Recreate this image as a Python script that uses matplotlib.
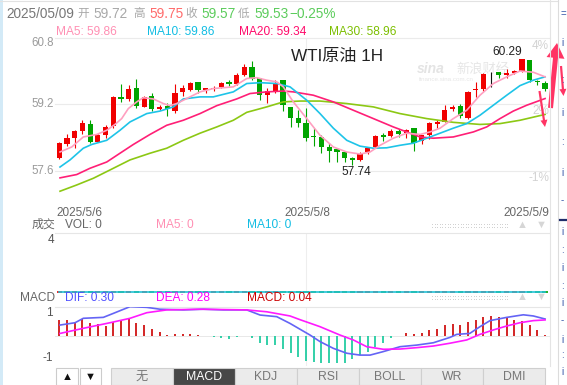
import matplotlib
matplotlib.use('Agg')
import matplotlib.pyplot as plt
import numpy as np
from matplotlib.patches import Rectangle, FancyArrow

plt.rcParams['font.family'] = ['Liberation Sans', 'Noto Sans CJK SC', 'DejaVu Sans']

# ---------------- data ----------------
open_ = [57.91, 58.25, 58.39, 58.56, 58.73, 58.30, 58.46, 58.68, 59.38, 59.33,
         59.59, 59.14, 59.40, 59.09, 59.16, 59.04, 59.50, 59.54, 59.74, 59.54,
         59.57, 59.62, 59.74, 59.69, 59.90, 60.09, 59.83, 59.42, 59.50, 59.78,
         59.14, 58.87, 58.75, 58.44, 58.42, 58.17, 58.13, 58.05, 57.91, 57.87,
         58.06, 58.17, 58.46, 58.44, 58.56, 58.51, 58.63, 58.32, 58.46, 58.73,
         58.78, 59.09, 59.16, 58.87, 59.54, 59.57, 59.97, 59.97, 59.90, 59.95,
         60.00, 60.26, 59.76, 59.72]
high = [58.30, 58.49, 58.58, 58.82, 58.82, 58.49, 58.70, 59.40, 59.69, 59.66,
        59.81, 59.40, 59.47, 59.18, 59.23, 59.68, 59.66, 59.74, 59.74, 59.59,
        59.64, 59.74, 59.78, 59.95, 60.17, 60.24, 59.83, 59.59, 59.78, 59.78,
        59.14, 59.06, 59.11, 58.63, 58.46, 58.27, 58.13, 58.05, 57.94, 58.06,
        58.18, 58.46, 58.51, 58.61, 58.61, 58.61, 58.63, 58.46, 58.78, 58.82,
        59.18, 59.18, 59.21, 59.52, 59.74, 59.95, 59.97, 59.97, 60.05, 60.02,
        60.29, 60.26, 59.78, 59.75]
low = [57.89, 58.20, 58.15, 58.49, 58.27, 58.30, 58.39, 58.63, 59.26, 59.28,
       59.11, 59.14, 59.04, 59.06, 58.92, 58.99, 59.40, 59.52, 59.47, 59.47,
       59.52, 59.59, 59.64, 59.66, 59.88, 59.78, 59.30, 59.23, 59.47, 59.04,
       58.66, 58.66, 58.32, 58.20, 58.03, 57.82, 57.81, 57.82, 57.74, 57.84,
       58.01, 58.15, 58.32, 58.42, 58.42, 58.39, 58.08, 58.25, 58.37, 58.63,
       58.77, 59.04, 58.87, 58.85, 59.38, 59.52, 59.62, 59.83, 59.83, 59.93,
       59.98, 59.74, 59.66, 59.53]
close = [58.27, 58.39, 58.56, 58.75, 58.30, 58.46, 58.66, 59.38, 59.33, 59.57,
         59.16, 59.38, 59.09, 59.14, 59.09, 59.47, 59.59, 59.71, 59.54, 59.59,
         59.59, 59.71, 59.69, 59.90, 60.09, 59.81, 59.42, 59.52, 59.71, 59.18,
         58.87, 58.75, 58.39, 58.42, 58.18, 58.08, 58.05, 57.91, 57.86, 58.01,
         58.15, 58.44, 58.43, 58.56, 58.49, 58.58, 58.27, 58.46, 58.75, 58.77,
         59.06, 59.14, 58.92, 59.50, 59.57, 59.93, 59.97, 59.90, 59.95, 60.00,
         60.28, 59.78, 59.74, 59.57]

# moving averages (bar position, value)
ma5_x = [0.09, 1.61, 3.11, 4.85, 6.15, 7.22, 8.09, 8.95, 10.04, 10.89, 12.19, 13.49, 14.36, 15.23, 16.52,
         18.25, 19.97, 22.57, 24.31, 25.6, 26.9, 28.2, 29.05, 30.35, 32.09, 33.81, 35.54, 37.28, 39.0, 40.3,
         41.6, 43.32, 45.06, 46.78, 48.08, 49.38, 51.1, 52.84, 54.56, 56.29, 58.03, 59.75, 61.48, 63.0]
ma5_y = [58.06, 58.18, 58.42, 58.48, 58.58, 58.72, 58.86, 59.10, 59.26, 59.36, 59.33, 59.22, 59.17, 59.22, 59.34,
         59.50, 59.58, 59.62, 59.82, 59.84, 59.78, 59.74, 59.62, 59.26, 58.86, 58.46, 58.18, 58.06, 58.01, 58.06,
         58.22, 58.39, 58.51, 58.48, 58.54, 58.63, 58.86, 59.06, 59.42, 59.70, 59.86, 60.00, 59.97, 59.86]
ma10_x = [0.09, 1.39, 3.11, 4.2, 6.15, 7.87, 9.17, 11.34, 13.06, 14.79, 16.08, 18.25, 19.97, 22.57, 24.31,
          26.04, 28.2, 29.92, 32.09, 33.81, 35.54, 37.28, 39.0, 40.73, 42.46, 44.18, 45.91, 47.65, 49.38, 51.1,
          52.84, 54.56, 56.29, 58.03, 59.75, 61.48, 63.0]
ma10_y = [57.70, 57.87, 58.15, 58.24, 58.34, 58.58, 58.78, 58.98, 59.04, 59.14, 59.33, 59.38, 59.38, 59.50, 59.70,
          59.72, 59.70, 59.62, 59.30, 58.98, 58.63, 58.34, 58.20, 58.15, 58.16, 58.22, 58.27, 58.39, 58.51, 58.63,
          58.74, 58.94, 59.18, 59.42, 59.65, 59.78, 59.86]
ma20_x = [0.09, 2.26, 3.98, 6.15, 7.87, 9.6, 11.76, 13.93, 16.08, 18.25, 20.42, 23.0, 24.73, 26.9, 29.05,
          30.35, 32.94, 35.54, 38.13, 40.73, 43.32, 45.06, 46.78, 48.51, 51.1, 53.7, 55.43, 57.16, 58.88, 60.62, 63.0]
ma20_y = [57.44, 57.52, 57.67, 57.82, 58.03, 58.24, 58.48, 58.70, 58.82, 58.98, 59.17, 59.33, 59.46, 59.50, 59.52,
          59.50, 59.42, 59.26, 59.06, 58.86, 58.66, 58.54, 58.42, 58.39, 58.42, 58.54, 58.66, 58.86, 59.04, 59.18, 59.34]
ma30_x = [0.09, 2.26, 4.41, 6.58, 9.17, 11.76, 13.93, 16.08, 18.25, 20.42, 22.57, 24.31, 26.9, 29.05, 31.22,
          33.81, 37.28, 40.73, 44.18, 47.65, 51.1, 54.56, 57.16, 59.75, 63.0]
ma30_y = [57.12, 57.27, 57.43, 57.63, 57.87, 58.03, 58.15, 58.34, 58.51, 58.66, 58.82, 59.01, 59.14, 59.26, 59.28,
          59.28, 59.22, 59.14, 58.98, 58.86, 58.77, 58.72, 58.74, 58.82, 58.96]

# volume (all zero in the picture)
volume = [0] * 64
vol_ma = [0] * 64

# MACD
dif_x = [0.09, 2.04, 3.11, 5.71, 7.0, 9.17, 11.34, 13.06, 16.08, 18.68, 21.27, 24.31, 26.04, 28.2, 29.92,
         31.22, 32.52, 33.81, 35.54, 37.28, 39.0, 40.3, 42.02, 44.18, 46.36, 48.51, 50.67, 51.54, 53.23, 54.56,
         55.86, 58.03, 60.18, 61.48, 63.0]
dif_y = [0.47, 0.57, 0.76, 0.80, 0.97, 1.26, 1.23, 1.15, 1.12, 1.15, 1.12, 1.12, 0.90, 0.83, 0.54,
         0.29, 0.04, -0.24, -0.53, -0.74, -0.82, -0.82, -0.67, -0.46, -0.39, -0.29, -0.06, 0.07, 0.11, 0.40,
         0.66, 0.80, 0.91, 0.86, 0.73]
dea_x = [0.09, 3.11, 6.58, 9.17, 11.34, 13.93, 18.25, 24.31, 26.9, 29.92, 31.22, 32.52, 33.81, 36.41, 38.13,
         39.87, 42.02, 44.18, 46.36, 48.51, 50.67, 52.84, 54.56, 56.29, 58.03, 59.75, 61.48, 63.0]
dea_y = [0.11, 0.33, 0.57, 0.76, 1.00, 1.12, 1.15, 1.12, 1.04, 0.86, 0.70, 0.55, 0.40, 0.04, -0.17,
         -0.46, -0.57, -0.56, -0.50, -0.43, -0.31, -0.17, 0.07, 0.26, 0.43, 0.57, 0.66, 0.69]
macd_hist = [0.69, 0.69, 0.62, 0.73, 0.57, 0.50, 0.43, 0.61, 0.64, 0.72,
             0.57, 0.47, 0.30, 0.16, 0.04, 0.07, 0.09, 0.10, 0.06, 0.0,
             -0.06, -0.07, -0.11, -0.06, -0.02, -0.10, -0.31, -0.39, -0.39, -0.57,
             -0.74, -0.89, -1.06, -1.13, -1.17, -1.14, -1.14, -1.14, -1.00, -0.82,
             -0.70, -0.46, -0.29, -0.10, 0.02, 0.14, 0.09, 0.14, 0.26, 0.31,
             0.46, 0.51, 0.47, 0.60, 0.69, 0.83, 0.86, 0.83, 0.76, 0.69,
             0.64, 0.47, 0.26, 0.05]

price_ticks = [60.8, 59.2, 57.6]
pct_levels = [60.60, 59.04, 57.43]
pct_labels = ['4%', '2%', '-1%']
date_pos = [0, 32, 63]
date_labels = ['2025/5/6', '2025/5/8', '2025/5/9']
hi_idx, lo_idx = 60, 38
buttons = ['无', 'MACD', 'KDJ', 'RSI', 'BOLL', 'WR', 'DMI']

# ---------------- styling ----------------
RED = '#f00000'
GREEN = '#00a400'
C5, C10, C20, C30 = '#ff9fc0', '#1ec4e8', '#ff1f76', '#8cc814'
W, H = 567, 385
fig = plt.figure(figsize=(W / 100, H / 100), dpi=100)
fig.patch.set_facecolor('white')


def box(l, t, r, b):
    return [l / W, 1 - b / H, (r - l) / W, (b - t) / H]


XL = (-0.56, 63.64)
ax = fig.add_axes(box(55, 37.6, 550, 205))
vax = fig.add_axes(box(55, 233, 550, 292))
mx = fig.add_axes(box(55, 307, 550, 366))
for a in (ax, vax, mx):
    for s in a.spines.values():
        s.set_visible(False)
    a.set_xticks([])
    a.set_yticks([])
    a.set_xlim(*XL)
    a.patch.set_alpha(0)
    a.axvline(date_pos[1], color='#eeeeee', lw=0.8, zorder=0)

# ---- main candles ----
o = np.array(open_); c = np.array(close); h = np.array(high); l = np.array(low)
idx = np.arange(len(o))
cols = np.where(c > o, RED, np.where(c < o, GREEN, '#111111'))
ax.set_ylim(56.79, 60.8)
for v in price_ticks:
    ax.axhline(v, color='#ebebeb', lw=0.8, zorder=0, clip_on=False)
ax.vlines(idx, l, h, colors=cols, lw=0.8, zorder=2)
ax.bar(idx, np.maximum(np.abs(c - o), 0.012), bottom=np.minimum(o, c), width=0.68,
       color=cols, linewidth=0, zorder=2)
ax.plot(ma30_x, ma30_y, color=C30, lw=1.2, zorder=3)
ax.plot(ma20_x, ma20_y, color=C20, lw=1.2, zorder=3)
ax.plot(ma10_x, ma10_y, color=C10, lw=1.2, zorder=3)
ax.plot(ma5_x, ma5_y, color=C5, lw=1.2, zorder=3)

for i, v in enumerate(price_ticks):
    dy = -5 if i == 0 else 0
    ax.annotate(f'{v:.1f}', xy=(0, v), xycoords=('axes fraction', 'data'), xytext=(-1, dy),
                textcoords='offset pixels', ha='right', va='center', fontsize=8.3, color='#9a9a9a')
for v, s in zip(pct_levels, pct_labels):
    ax.annotate(s, xy=(1, v), xycoords=('axes fraction', 'data'), xytext=(-1, 0),
                textcoords='offset pixels', ha='right', va='center', fontsize=8.5, color='#d2d2d2')
ax.annotate(f'{high[hi_idx]:.2f}', xy=(hi_idx, high[hi_idx]), xytext=(-15, 7), textcoords='offset pixels',
            ha='center', va='center', fontsize=8.6, color='#222222')
ax.annotate(f'{low[lo_idx]:.2f}', xy=(lo_idx, low[lo_idx]), xytext=(4, -7), textcoords='offset pixels',
            ha='center', va='center', fontsize=8.6, color='#222222')
ax.text(0.476, 0.887, 'WTI原油 1H', transform=ax.transAxes, fontsize=12.3, color='#222222',
        ha='left', va='center')
ax.text(0.73, 0.81, 'sina', transform=ax.transAxes, fontsize=10, color='#e4e4e4',
        style='italic', fontweight='bold', ha='left', va='center', zorder=1)
ax.text(0.81, 0.81, '新浪财经', transform=ax.transAxes, fontsize=9.5, color='#e6e6e6',
        ha='left', va='center', zorder=1)
ax.text(0.735, 0.75, 'finance.sina.com.cn', transform=ax.transAxes, fontsize=4.5, color='#e6e6e6',
        ha='left', va='center', zorder=1)
# date labels
dkw = dict(fontsize=8.5, color='#666666', va='center')
ax.annotate(date_labels[0], xy=(0, 0), xycoords='axes fraction', xytext=(1, -8),
            textcoords='offset pixels', ha='left', **dkw)
ax.annotate(date_labels[1], xy=(date_pos[1], 0), xycoords=('data', 'axes fraction'), xytext=(1, -8),
            textcoords='offset pixels', ha='center', **dkw)
ax.annotate(date_labels[2], xy=(1, 0), xycoords='axes fraction', xytext=(-1, -8),
            textcoords='offset pixels', ha='right', **dkw)

# ---- volume ----
vax.set_ylim(0, 4)
vax.axhline(4, color='#e6e6e6', lw=0.8, clip_on=False)
vcols = np.where(c >= o, RED, GREEN)
vax.hlines(volume, idx - 0.34, idx + 0.34, colors=vcols, lw=1.2, clip_on=False)
vax.plot(idx, vol_ma, color='#22c1d6', lw=1.2, clip_on=False)
vax.annotate('4', xy=(0, 4), xycoords=('axes fraction', 'data'), xytext=(-1, -7),
             textcoords='offset pixels', ha='right', va='center', fontsize=8.5, color='#555555')

# ---- MACD ----
mx.set_ylim(-1.288, 1.245)
mx.axhline(1.245, color='#e6e6e6', lw=0.8, clip_on=False)
mx.axhline(0, color='#e8e8e8', lw=0.7, zorder=0)
mh = np.array(macd_hist)
mx.vlines(idx, 0, mh, colors=np.where(mh >= 0, '#cc0000', '#10c89a'), lw=1.2, zorder=2)
mx.plot(dif_x, dif_y, color='#6464f5', lw=1.2, zorder=3)
mx.plot(dea_x, dea_y, color='#ff1aff', lw=1.2, zorder=3)
for v in (1, -1):
    mx.annotate(f'{v}', xy=(0, v), xycoords=('axes fraction', 'data'), xytext=(-2, 1 if v < 0 else 0),
                textcoords='offset pixels', ha='right', va='center', fontsize=8.5, color='#555555')

# ---------------- overlay (page decoration) ----------------
ov = fig.add_axes([0, 0, 1, 1], zorder=10)
ov.set_xlim(0, W); ov.set_ylim(H, 0); ov.axis('off'); ov.patch.set_alpha(0)
ov.add_patch(Rectangle((0, 0), 3, H, color='#d3eaf7', lw=0))
ov.plot([0, 558], [0.5, 0.5], color='#e2e2e2', lw=0.8)
ov.plot([550, 550], [0, 366], color='#e4e4e4', lw=0.8)
ov.plot([558, 558], [0, H], color='#dcdcdc', lw=0.8)
ov.plot([560, 567], [220, 220], color='#1f2d6b', lw=1.6)
for yy, ch in zip([14, 43, 80, 113, 142, 173, 200, 232, 250, 268, 286, 303, 320, 340, 355, 372],
                  ['=', 'i', ':', 'i', ':', 'i', '-', 'i', ':', 'i', ':', 'i', '-', 'i', ':', 'i']):
    ov.text(561, yy, ch, fontsize=7, color='#3354a8', ha='left', va='center')

# header row 1
fs1 = 9.8
ov.text(6.5, 14, '2025/05/09', fontsize=fs1, color='#777777', va='center')
seg1 = [(f'{open_[-1]:.2f}', 93, '#a8a8a8'), (f'{high[-1]:.2f}', 149, '#ff6b6b'),
        (f'{close[-1]:.2f}', 201, '#5ccc5c'), (f'{low[-1]:.2f}', 254, '#5ccc5c'),
        ('−0.25%', 289, '#5ccc5c')]
for s, x, col in seg1:
    ov.text(x, 14, s, fontsize=fs1, color=col, va='center')
for s, x in [('开', 83), ('高', 139), ('收', 191.5), ('低', 243.5)]:
    ov.text(x, 14, s, fontsize=8.4, color='#a8a8a8', va='center', ha='center')
# header row 2
fs2 = 8.6
for s, x, col in [(f'MA5: {ma5_y[-1]:.2f}', 56, '#ff8fb3'), (f'MA10: {ma10_y[-1]:.2f}', 147, '#12bde3'),
                  (f'MA20: {ma20_y[-1]:.2f}', 239, '#ff0a6a'), (f'MA30: {ma30_y[-1]:.2f}', 329, '#7cbf00')]:
    ov.text(x, 32, s, fontsize=fs2, color=col, va='center')

# volume header
ov.text(55, 225, '成交', fontsize=fs2, color='#666666', va='center', ha='right')
for s, x, col in [(f'VOL: {volume[-1]}', 65, '#666666'), (f'MA5: {vol_ma[-1]}', 156, '#ff8fb3'),
                  (f'MA10: {vol_ma[-1]}', 247, '#12bde3')]:
    ov.text(x, 225, s, fontsize=fs2, color=col, va='center')
# macd header
ov.text(55, 298, 'MACD', fontsize=fs2, color='#666666', va='center', ha='right')
for s, x, col in [('DIF: 0.30', 65, '#5050ff'), ('DEA: 0.28', 156, '#ff00ff'), ('MACD: 0.04', 247, '#cc0000')]:
    ov.text(x, 298, s, fontsize=fs2, color=col, va='center')
# dotted blocks and small triangles
for yb in (225, 297):
    xs = np.arange(432, 510, 2.6)
    for dy in (-1.5, 1.5):
        ov.scatter(xs, np.full(len(xs), yb + dy), s=0.5, color='#cfcfcf', lw=0)
    ov.text(522, yb, '▲', fontsize=8, color='#d6d6d6', ha='center', va='center')
    ov.text(541, yb, '▼', fontsize=8, color='#d6d6d6', ha='center', va='center')

# bottom button bar
ov.add_patch(Rectangle((56, 368), 22, 17, facecolor='white', edgecolor='#cccccc', lw=0.8))
ov.add_patch(Rectangle((80, 368), 21, 17, facecolor='white', edgecolor='#cccccc', lw=0.8))
ov.text(67, 377, '▲', fontsize=8, color='#111111', ha='center', va='center')
ov.text(90.5, 377, '▼', fontsize=8, color='#111111', ha='center', va='center')
bw = 62
for k, name in enumerate(buttons):
    x0 = 111 + k * bw
    active = name == 'MACD'
    ov.add_patch(Rectangle((x0, 368), bw, 17, facecolor='#474747' if active else '#ebebeb',
                           edgecolor='#cfcfcf', lw=0.8))
    ov.text(x0 + bw / 2, 377, name, fontsize=8.8, color='white' if active else '#777777',
            ha='center', va='center')

# red annotation arrows
AR = '#ff3464'
ov.add_patch(FancyArrow(550.5, 108, 6.5, -65, width=5, head_width=18, head_length=15,
                        length_includes_head=True, color=AR, lw=0))
ov.add_patch(FancyArrow(561, 66, 2.5, 30, width=2.2, head_width=7, head_length=7,
                        length_includes_head=True, color=AR, lw=0))
ov.add_patch(FancyArrow(539.5, 91, 5.5, 36, width=2.2, head_width=7, head_length=7,
                        length_includes_head=True, color=AR, lw=0))

fig.savefig('out.png', dpi=100, facecolor='white')
